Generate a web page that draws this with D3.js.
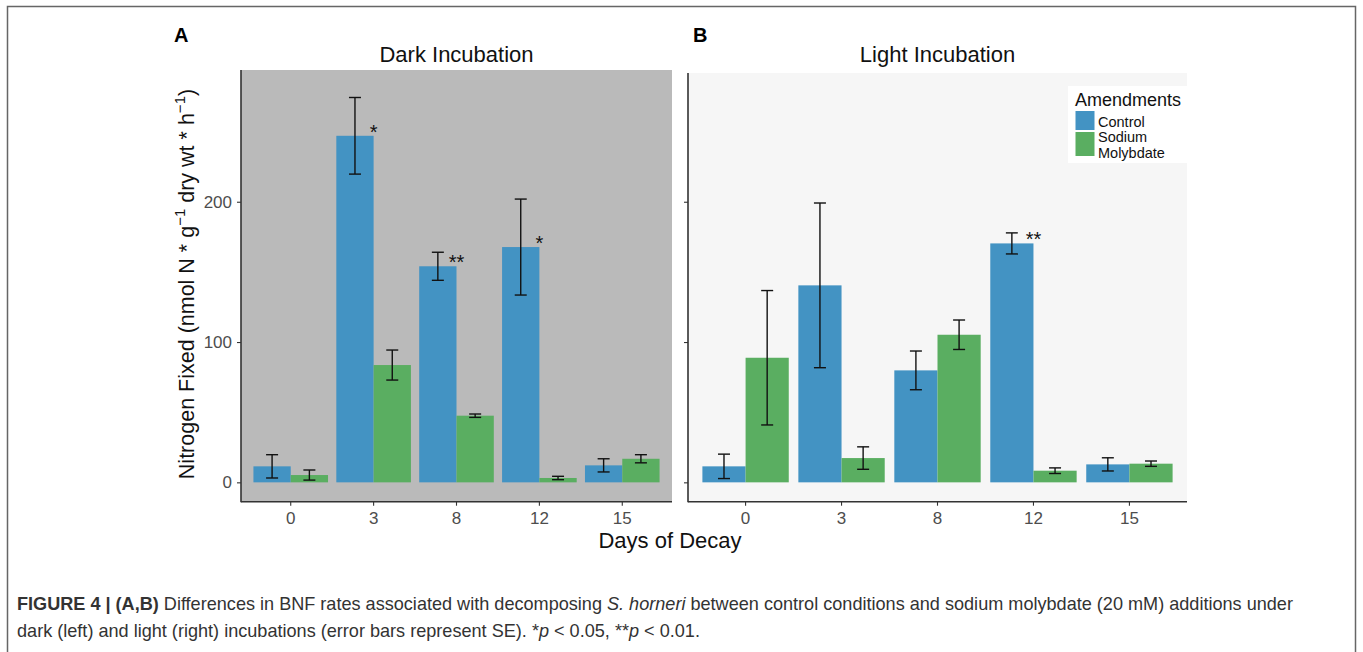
<!DOCTYPE html>
<html>
<head>
<meta charset="utf-8">
<script src="https://cdnjs.cloudflare.com/ajax/libs/d3/7.8.5/d3.min.js"></script>
<style>
  body { margin: 0; background: #fff; }
  svg { font-family: Arial, "Liberation Sans", sans-serif; }
</style>
</head>
<body>
<script>
const width = 1363, height = 652;

// data
const days = ["0", "3", "8", "12", "15"];
const groups = ["Control", "Sodium Molybdate"];
const darkControl = [11.4, 247, 154, 167.7, 12.1];
const darkControlSE = [8.3, 27.3, 10, 34.2, 4.7];
const darkMolyb = [5.2, 83.6, 47.5, 3.1, 16.8];
const darkMolybSE = [3.6, 10.7, 1.2, 1.2, 2.9];
const lightControl = [11.4, 140.4, 79.8, 170.3, 12.8];
const lightControlSE = [8.7, 58.7, 13.8, 7.5, 4.7];
const lightMolyb = [88.8, 17.3, 105.2, 8.3, 13.3];
const lightMolybSE = [47.9, 8, 10.5, 2, 1.9];
const darkStars = ["", "*", "**", "*", ""];
const lightStars = ["", "", "", "**", ""];
const yTicks = [0, 100, 200];

const colors = { "Control": "#4393c3", "Sodium Molybdate": "#5aae61" };

const svg = d3.select("body")
    .append("svg")
    .attr("width", width)
    .attr("height", height)

// figure frame
svg.append("rect")
    .attr("x", 7.5).attr("y", 6.5)
    .attr("width", 1348).attr("height", 660)
    .attr("fill", "none")
    .attr("stroke", "#666")
    .attr("stroke-width", 1.5)

const y = d3.scaleLinear()
    .domain([-13.8, 293.9])
    .range([501.7, 70])

function rows(ctrl, ctrlSE, mol, molSE, stars) {
    return days.map((d, i) => ({
        day: d,
        star: stars[i],
        bars: [
            { group: groups[0], value: ctrl[i], se: ctrlSE[i] },
            { group: groups[1], value: mol[i], se: molSE[i] }
        ]
    }))
}

function panel(opts) {
    const { x0, x1, top, fill, title, letter, letterX, data, showYLabels } = opts
    const g = svg.append("g")

    g.append("rect")
        .attr("x", x0).attr("y", top)
        .attr("width", x1 - x0).attr("height", y.range()[0] - top)
        .attr("fill", fill)

    const x = d3.scaleBand()
        .domain(days)
        .range([x0, x1])
        .paddingInner(0.1)
        .paddingOuter(0.15)
    const xSub = d3.scaleBand()
        .domain(groups)
        .range([0, x.bandwidth()])

    const grp = g.selectAll(".day")
        .data(data)
        .enter()
        .append("g")
        .attr("class", "day")
        .attr("transform", d => "translate(" + x(d.day) + ",0)")

    grp.selectAll("rect")
        .data(d => d.bars)
        .enter()
        .append("rect")
        .attr("x", d => xSub(d.group))
        .attr("y", d => y(d.value))
        .attr("width", xSub.bandwidth())
        .attr("height", d => y(0) - y(d.value))
        .attr("fill", d => colors[d.group])

    // error bars
    const eb = grp.selectAll(".eb")
        .data(d => d.bars)
        .enter()
        .append("g")
        .attr("class", "eb")
        .attr("stroke", "#111")
        .attr("stroke-width", 1.4)
    const cx = d => xSub(d.group) + xSub.bandwidth() / 2
    eb.append("line")
        .attr("x1", cx).attr("x2", cx)
        .attr("y1", d => y(d.value + d.se))
        .attr("y2", d => y(Math.max(d.value - d.se, 0)))
    eb.append("line")
        .attr("x1", d => cx(d) - 6).attr("x2", d => cx(d) + 6)
        .attr("y1", d => y(d.value + d.se)).attr("y2", d => y(d.value + d.se))
    eb.append("line")
        .attr("x1", d => cx(d) - 6).attr("x2", d => cx(d) + 6)
        .attr("y1", d => y(Math.max(d.value - d.se, 0))).attr("y2", d => y(Math.max(d.value - d.se, 0)))

    // significance stars
    grp.append("text")
        .attr("x", x.bandwidth() / 2)
        .attr("y", d => y(d.bars[0].value) + 3)
        .attr("text-anchor", "middle")
        .attr("font-size", 20)
        .attr("fill", "#111")
        .text(d => d.star)

    // axes
    const xAxis = g.append("g")
        .attr("transform", "translate(0," + y.range()[0] + ")")
        .call(d3.axisBottom(x).tickSize(4).tickPadding(6))
    const yAxis = g.append("g")
        .attr("transform", "translate(" + x0 + ",0)")
        .call(d3.axisLeft(y).tickValues(yTicks).tickSize(4).tickPadding(5)
            .tickFormat(showYLabels ? d3.format("d") : () => ""))
    ;[xAxis, yAxis].forEach(a => {
        a.select(".domain").remove()
        a.selectAll(".tick line").attr("stroke", "#333").attr("stroke-width", 1.1)
        a.selectAll(".tick text")
            .attr("fill", "#4d4d4d")
            .style("font-size", "17px")
            .style("font-family", "Arial, 'Liberation Sans', sans-serif")
    })
    g.append("line")
        .attr("x1", x0).attr("x2", x0)
        .attr("y1", top).attr("y2", y.range()[0] + 0.5)
        .attr("stroke", "#333").attr("stroke-width", 1.6)
    g.append("line")
        .attr("x1", x0).attr("x2", x1)
        .attr("y1", y.range()[0]).attr("y2", y.range()[0])
        .attr("stroke", "#333").attr("stroke-width", 1.6)

    svg.append("text")
        .attr("x", (x0 + x1) / 2).attr("y", 62)
        .attr("text-anchor", "middle")
        .attr("font-size", 22)
        .attr("fill", "#111")
        .text(title)
    svg.append("text")
        .attr("x", letterX).attr("y", 42)
        .attr("font-size", 20)
        .attr("font-weight", "bold")
        .attr("fill", "#000")
        .text(letter)
}

panel({
    x0: 241, x1: 672, top: 70, fill: "#bababa",
    title: "Dark Incubation", letter: "A", letterX: 174,
    data: rows(darkControl, darkControlSE, darkMolyb, darkMolybSE, darkStars),
    showYLabels: true
})
panel({
    x0: 688, x1: 1187, top: 73, fill: "#f6f6f6",
    title: "Light Incubation", letter: "B", letterX: 693,
    data: rows(lightControl, lightControlSE, lightMolyb, lightMolybSE, lightStars),
    showYLabels: false
})

// y axis title
const ylab = svg.append("text")
    .attr("transform", "translate(194,284) rotate(-90)")
    .attr("text-anchor", "middle")
    .attr("font-size", 21.5)
    .attr("fill", "#111")
ylab.append("tspan").text("Nitrogen Fixed (nmol N * g")
ylab.append("tspan").attr("dy", -9).attr("font-size", 15).text("\u22121")
ylab.append("tspan").attr("dy", 9).text(" dry wt * h")
ylab.append("tspan").attr("dy", -9).attr("font-size", 15).text("\u22121")
ylab.append("tspan").attr("dy", 9).text(")")

// x axis title
svg.append("text")
    .attr("x", 670).attr("y", 548)
    .attr("text-anchor", "middle")
    .attr("font-size", 22)
    .attr("fill", "#111")
    .text("Days of Decay")

// legend
const legend = svg.append("g")
legend.append("rect")
    .attr("x", 1068).attr("y", 86)
    .attr("width", 119).attr("height", 77)
    .attr("fill", "#fff")
legend.append("text")
    .attr("x", 1075).attr("y", 106)
    .attr("font-size", 18)
    .attr("fill", "#111")
    .text("Amendments")
const keyY = [111, 132], keyH = [19, 24]
legend.selectAll(".key")
    .data(groups)
    .enter()
    .append("rect")
    .attr("x", 1075.5)
    .attr("y", (d, i) => keyY[i])
    .attr("width", 19)
    .attr("height", (d, i) => keyH[i])
    .attr("fill", d => colors[d])
legend.append("text").attr("x", 1098).attr("y", 127).attr("font-size", 14.5).attr("fill", "#111").text("Control")
legend.append("text").attr("x", 1098).attr("y", 142).attr("font-size", 14.5).attr("fill", "#111").text("Sodium")
legend.append("text").attr("x", 1098).attr("y", 158).attr("font-size", 14.5).attr("fill", "#111").text("Molybdate")

// caption
const capSize = 18.1
const cap1 = svg.append("text")
    .attr("x", 17).attr("y", 610)
    .attr("font-size", capSize)
    .attr("fill", "#333")
cap1.append("tspan").attr("font-weight", "bold").text("FIGURE 4 | (A,B)")
cap1.append("tspan").text(" Differences in BNF rates associated with decomposing ")
cap1.append("tspan").attr("font-style", "italic").text("S. horneri")
cap1.append("tspan").text(" between control conditions and sodium molybdate (20 mM) additions under")
const cap2 = svg.append("text")
    .attr("x", 17).attr("y", 637)
    .attr("font-size", capSize)
    .attr("fill", "#333")
cap2.append("tspan").text("dark (left) and light (right) incubations (error bars represent SE). *")
cap2.append("tspan").attr("font-style", "italic").text("p")
cap2.append("tspan").text(" < 0.05, **")
cap2.append("tspan").attr("font-style", "italic").text("p")
cap2.append("tspan").text(" < 0.01.")
</script>
</body>
</html>
